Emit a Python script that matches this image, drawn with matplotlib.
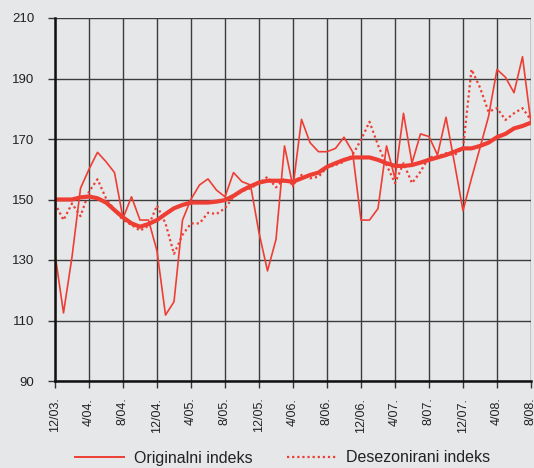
import matplotlib.pyplot as plt
from matplotlib.lines import Line2D

plt.rcParams['font.family'] = ['Liberation Sans', 'DejaVu Sans']

# mjesecni podaci 12/03. - 8/08.
original = [132, 112.5, 131, 153.7, 160, 165.6, 162.5, 158.9, 143.8, 150.9, 143.2, 143.2,
            133, 111.8, 116.2, 143.2, 150.1, 154.8, 156.8, 153.1, 150.9, 158.9, 155.9, 154.8,
            139, 126.4, 136.8, 167.7, 154.2, 176.5, 168.8, 165.8, 165.8, 166.9, 170.6, 165.8,
            143.2, 143.2, 147, 167.7, 157, 178.5, 162, 171.7, 170.8, 164.7, 177.2, 162,
            146.3, 157, 167.1, 177.4, 193, 190.4, 185.3, 197.2, 175.2]
desezonirani = [148.7, 143.2, 148.7, 144.5, 152.6, 156.7, 150.4, 146.5, 143.2, 141.6, 139.7, 141.3,
                148, 142.1, 132, 138.3, 142.1, 142.1, 145.6, 145.2, 147.1, 150.9, 152.8, 153.7,
                155.4, 157.5, 154, 157, 154.8, 158.1, 157, 157.5, 160.6, 161.4, 162.5, 164.7,
                169.7, 175.7, 168, 161.4, 155.4, 162, 155.4, 159.2, 164, 164.2, 165.3, 164.7,
                166.9, 193, 187, 179, 180.2, 176.3, 178.5, 180.2, 176.3]
trend = [150, 150, 150, 150.7, 151, 150.4, 149, 146.5, 144.1, 142.1, 141, 141.9,
         143.2, 145.2, 147.1, 148.2, 149, 149, 149, 149.3, 149.8, 151.2, 153, 154.4,
         155.6, 156.2, 156.2, 156.2, 155.9, 157, 158.1, 158.9, 160.8, 162, 163.1, 163.9,
         163.9, 163.9, 163.1, 162, 161.1, 161.1, 161.4, 162.2, 163.1, 163.9, 164.7, 165.8,
         166.9, 166.9, 167.7, 168.8, 170.6, 171.7, 173.5, 174.3, 175.4]
xlabels = ['12/03.', '4/04.', '8/04.', '12/04.', '4/05.', '8/05.', '12/05.', '4/06.',
           '8/06.', '12/06.', '4/07.', '8/07.', '12/07.', '4/08.', '8/08.']

bg = '#e6e7e9'
red = '#ee3e34'

fig = plt.figure(figsize=(5.34, 4.68), dpi=100, facecolor=bg)
ax = fig.add_axes([55/534, 1-381/468, 476/534, 363/468], facecolor=bg)

x = list(range(len(original)))
ax.plot(x, original, color=red, lw=1.2, zorder=3)
ax.plot(x, desezonirani, color=red, lw=1.6, linestyle=(0, (1, 1.3)), zorder=3)
ax.plot(x, trend, color=red, lw=3.0, solid_capstyle='round', zorder=4)

ax.set_xlim(0, 56)
ax.set_ylim(90, 210)
ax.set_yticks(range(90, 211, 20))
ax.set_xticks(range(0, 57, 4))
ax.set_xticklabels(xlabels, rotation=90, va='top', ha='center')

ax.grid(True, color='#3c3c3c', lw=1.0)
ax.set_axisbelow(True)
for s in ['top', 'right']:
    ax.spines[s].set_visible(False)
for s in ['left', 'bottom']:
    ax.spines[s].set_color('#111111')
    ax.spines[s].set_linewidth(1.8)
    ax.spines[s].set_zorder(5)

ax.tick_params(axis='y', length=5, width=1, color='#333333', pad=10, labelsize=9.5, labelcolor='#222222')
ax.tick_params(axis='x', length=5, width=1, color='#333333', pad=7, labelsize=9, labelcolor='#222222')

handles = [Line2D([], [], color=red, lw=1.4),
           Line2D([], [], color=red, lw=1.6, linestyle=(0, (1, 1.3)))]
fig.legend(handles, ['Originalni indeks', 'Desezonirani indeks'], loc='center',
           bbox_to_anchor=(0.529, 1-458/468), ncol=2, frameon=False, fontsize=11.5,
           handlelength=3.1, handletextpad=0.62, columnspacing=2.1, labelcolor='#222222')

fig.savefig('out.png', dpi=100, facecolor=bg)
